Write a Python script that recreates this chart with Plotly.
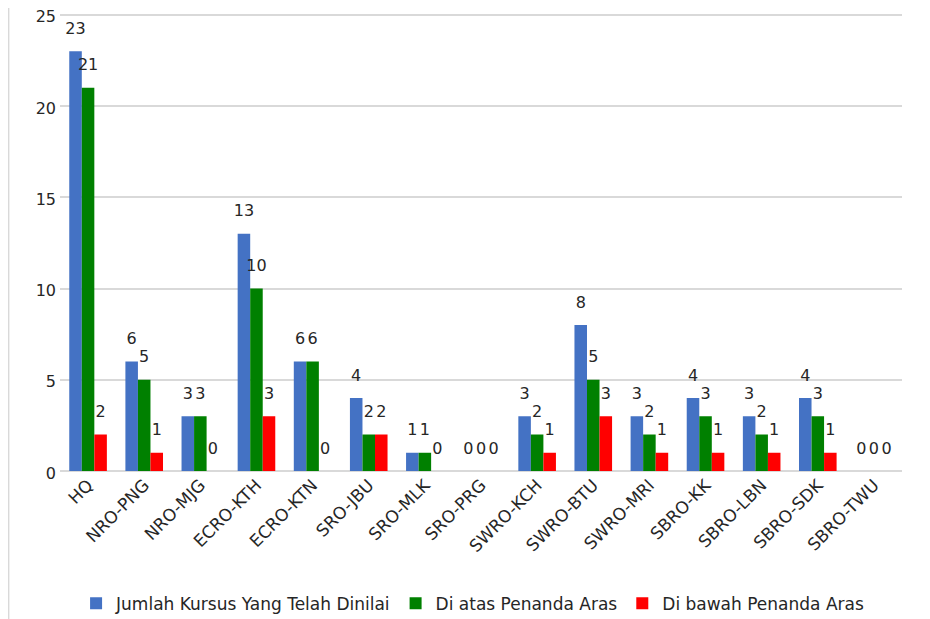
import plotly.graph_objects as go

categories = ["HQ", "NRO-PNG", "NRO-MJG", "ECRO-KTH", "ECRO-KTN", "SRO-JBU", "SRO-MLK",
              "SRO-PRG", "SWRO-KCH", "SWRO-BTU", "SWRO-MRI", "SBRO-KK", "SBRO-LBN",
              "SBRO-SDK", "SBRO-TWU"]
jumlah = [23, 6, 3, 13, 6, 4, 1, 0, 3, 8, 3, 4, 3, 4, 0]
di_atas = [21, 5, 3, 10, 6, 2, 1, 0, 2, 5, 2, 3, 2, 3, 0]
di_bawah = [2, 1, 0, 3, 0, 2, 0, 0, 1, 3, 1, 1, 1, 1, 0]
y_ticks = [0, 5, 10, 15, 20, 25]
series_names = ["Jumlah Kursus Yang Telah Dinilai", "Di atas Penanda Aras", "Di bawah Penanda Aras"]
colors = ["#4472C4", "#008000", "#FF0000"]

FONT = "'DejaVu Sans', sans-serif"
TXT = "#262626"

fig = go.Figure()
for i, (name, vals, col) in enumerate(zip(series_names, [jumlah, di_atas, di_bawah], colors)):
    fig.add_trace(go.Bar(
        x=categories, y=vals, name=name, offsetgroup=str(i),
        marker=dict(color=col, line=dict(width=0)),
    ))
for i, vals in enumerate([jumlah, di_atas, di_bawah]):
    fig.add_trace(go.Scatter(
        x=categories, y=vals, mode="markers+text", offsetgroup=str(i),
        marker=dict(size=20, opacity=0), showlegend=False, hoverinfo="skip",
        text=[str(v) for v in vals], textposition="top center",
        textfont=dict(size=16, color=TXT, family=FONT), cliponaxis=False,
    ))

fig.update_layout(
    width=922, height=611,
    barmode="group", bargap=0.33, bargroupgap=0,
    scattermode="group", scattergap=0.33,
    plot_bgcolor="white", paper_bgcolor="white",
    margin=dict(l=52, r=28, t=4, b=148),
    font=dict(family=FONT, size=16, color=TXT),
    legend=dict(orientation="h", x=0.49, xanchor="center", yref="container", y=0.025,
                yanchor="middle", font=dict(size=17, family=FONT, color=TXT),
                itemwidth=30, traceorder="normal"),
    xaxis=dict(tickangle=-45, tickfont=dict(size=17, family=FONT, color=TXT), showline=False,
               ticks="", showgrid=False, automargin=False),
    yaxis=dict(range=[0, 25.15], tickvals=y_ticks, showgrid=True, gridcolor="#D9D9D9",
               gridwidth=1.5, zeroline=True, zerolinecolor="#D9D9D9", zerolinewidth=1.5,
               tickfont=dict(size=16, family=FONT, color=TXT), ticks="", ticklabelstandoff=3,
               ticklabelshift=2, ticklabeloverflow="allow", automargin=False),
    shapes=[dict(type="line", xref="paper", yref="paper", x0=-0.061, x1=-0.061,
                 y0=-0.4, y1=1.1, line=dict(color="#D9D9D9", width=1.5))],
)

fig.write_html("out.html")
